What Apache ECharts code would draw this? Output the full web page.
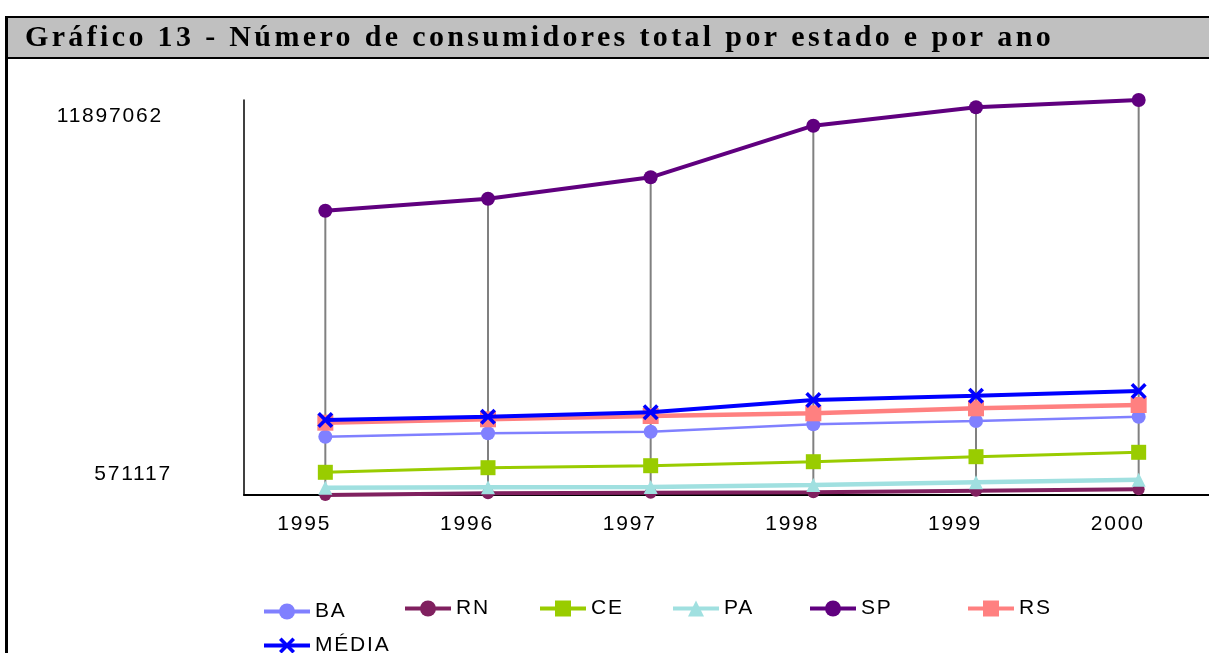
<!DOCTYPE html>
<html>
<head>
<meta charset="utf-8">
<script src="https://cdn.jsdelivr.net/npm/echarts@6/dist/echarts.min.js"></script>
<style>
html,body{margin:0;padding:0;background:#fff;}
#chart{width:1209px;height:653px;}
</style>
</head>
<body>
<div id="chart"></div>
<script>
// ---- data ----
const titleText = 'Gráfico 13 - Número de consumidores total por estado e por ano';
const years = ['1995', '1996', '1997', '1998', '1999', '2000'];
const yTickLabels = [571117, 11897062];
const BA = [2242800, 2340200, 2386100, 2598300, 2692900, 2816200];
const RN = [571117, 619900, 637100, 648500, 694400, 734600];
const CE = [1222000, 1353900, 1411200, 1525900, 1669300, 1795500];
const PA = [780400, 791900, 801300, 857800, 935300, 1009800];
const SP = [8722900, 9066900, 9680500, 11160000, 11687600, 11897062];
const RS = [2644200, 2741700, 2836300, 2913700, 3057100, 3151700];
const MEDIA = [2721600, 2816200, 2942400, 3295100, 3418300, 3553100];

// letter spacing for text drawn on canvas
(function () {
  const proto = CanvasRenderingContext2D.prototype;
  const orig = proto.fillText;
  proto.fillText = function () {
    if ('letterSpacing' in this) {
      const sp = /Serif/.test(this.font) ? '3.35px' : '1.8px';
      const prev = this.letterSpacing;
      this.letterSpacing = sp;
      const r = orig.apply(this, arguments);
      this.letterSpacing = prev;
      return r;
    }
    return orig.apply(this, arguments);
  };
})();

const allSeries = [BA, RN, CE, PA, SP, RS, MEDIA];
const dropData = years.map((y, i) => {
  const vals = allSeries.map(s => s[i]);
  return [i, Math.min.apply(null, vals), Math.max.apply(null, vals)];
});

const font = 'Liberation Sans';
const xPath = 'path://M0,1.6 L1.6,0 L5,3.4 L8.4,0 L10,1.6 L6.6,5 L10,8.4 L8.4,10 L5,6.6 L1.6,10 L0,8.4 L3.4,5 Z';

function mkSeries(name, data, color, width, symbol, size, z) {
  return {
    name: name, type: 'line', data: data, z: z,
    symbol: symbol, symbolSize: size,
    lineStyle: { color: color, width: width },
    itemStyle: { color: color },
    emphasis: { disabled: true }
  };
}

const legendPos = [
  ['BA', 257, 596], ['RN', 398, 593], ['CE', 533, 593], ['PA', 666, 593],
  ['SP', 803, 593], ['RS', 961, 593], ['MÉDIA', 257, 630]
];

const chart = echarts.init(document.getElementById('chart'), null, { renderer: 'canvas' });
chart.setOption({
  animation: false,
  backgroundColor: '#fff',
  grid: { left: 244, top: 100, width: 976, height: 395, outerBoundsMode: 'none' },
  graphic: [
    { type: 'rect', z: 10, shape: { x: 6.5, y: 17, width: 1230, height: 41 },
      style: { fill: '#C0C0C0', stroke: '#000', lineWidth: 2 } },
    { type: 'line', z: 11, shape: { x1: 6.5, y1: 16, x2: 6.5, y2: 660 },
      style: { stroke: '#000', lineWidth: 3 } },
    { type: 'text', z: 12, x: 25, y: 38,
      style: { text: titleText, fill: '#000', font: 'bold 30px "Liberation Serif"',
        textAlign: 'left', textVerticalAlign: 'middle' } }
  ],
  legend: legendPos.map(p => ({
    data: [p[0]], left: p[1], top: p[2], itemWidth: 46, itemHeight: 20,
    selectedMode: false,
    lineStyle: { width: 4 },
    textStyle: { fontFamily: font, fontSize: 21, color: '#000', lineHeight: 20 }
  })),
  xAxis: {
    type: 'category', data: years, boundaryGap: true,
    axisLine: { lineStyle: { color: '#000', width: 2 } },
    axisTick: { show: false },
    axisLabel: { fontFamily: font, fontSize: 21, color: '#000', margin: 19, padding: [0, 42, 0, 0] },
    splitLine: { show: false }
  },
  yAxis: {
    type: 'value', min: yTickLabels[0], max: yTickLabels[1],
    axisLine: { show: true, lineStyle: { color: '#000', width: 1.5 } },
    axisTick: { show: false },
    splitLine: { show: false },
    axisLabel: {
      margin: 8,
      showMinLabel: true, showMaxLabel: true,
      formatter: function (v) {
        if (v === yTickLabels[1]) return '{top|' + v + '}';
        if (v === yTickLabels[0]) return '{bot|' + v + '}';
        return '';
      },
      rich: {
        top: { fontFamily: font, fontSize: 21, color: '#000', padding: [33, 73, 0, 0] },
        bot: { fontFamily: font, fontSize: 21, color: '#000', padding: [0, 64, 42, 0] }
      }
    }
  },
  series: [
    {
      type: 'custom', name: 'drop', z: 1, silent: true,
      data: dropData,
      renderItem: function (params, api) {
        const p1 = api.coord([api.value(0), api.value(1)]);
        const p2 = api.coord([api.value(0), api.value(2)]);
        return { type: 'line', shape: { x1: p1[0], y1: p1[1], x2: p2[0], y2: p2[1] },
          style: { stroke: '#808080', lineWidth: 2 } };
      }
    },
    mkSeries('BA', BA, '#8080FF', 2.5, 'circle', 14, 2),
    mkSeries('RN', RN, '#80205F', 4, 'circle', 12, 2),
    mkSeries('CE', CE, '#99CC00', 3, 'rect', 15, 2),
    mkSeries('PA', PA, '#A0E0E0', 4.5, 'triangle', 14, 3),
    mkSeries('SP', SP, '#60007F', 4, 'circle', 14, 3),
    mkSeries('RS', RS, '#FF8080', 4.5, 'rect', 16, 3),
    mkSeries('MÉDIA', MEDIA, '#0000FF', 4, xPath, 16, 4)
  ]
});
</script>
</body>
</html>
